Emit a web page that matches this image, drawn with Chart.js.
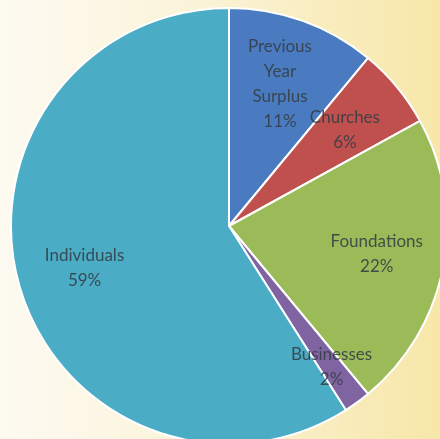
<!DOCTYPE html>
<html>
<head>
<meta charset="utf-8">
<script src="https://cdn.jsdelivr.net/npm/chart.js@4/dist/chart.umd.min.js"></script>
<style>
  html, body { margin: 0; padding: 0; }
  body {
    width: 440px; height: 439px; overflow: hidden;
    background: linear-gradient(to right, #fdfaf1 0%, #fbf3d8 45%, #f7e7a9 100%);
  }
  #wrap { position: relative; width: 440px; height: 439px; }
</style>
</head>
<body>
<div id="wrap"><canvas id="incomeChart"></canvas></div>
<script>
// Income sources - pie
const categories = ['Previous Year Surplus', 'Churches', 'Foundations', 'Businesses', 'Individuals'];
const labelLines = [['Previous', 'Year', 'Surplus'], ['Churches'], ['Foundations'], ['Businesses'], ['Individuals']];
const shares = [11, 6, 22, 2, 59];
const sliceColors = ['#4a7bc1', '#c0504d', '#9bbb59', '#8064a2', '#4bacc6'];

// draws "Name / NN%" inside every slice, at the middle angle of the arc
const sliceLabels = {
  id: 'sliceLabels',
  afterDatasetsDraw(chart) {
    const ctx = chart.ctx;
    const meta = chart.getDatasetMeta(0);
    const total = shares.reduce((a, b) => a + b, 0);
    ctx.save();
    ctx.font = '17px Lato, "Open Sans", sans-serif';
    ctx.fillStyle = 'rgba(52, 62, 68, 0.88)';
    ctx.textAlign = 'center';
    ctx.textBaseline = 'middle';
    meta.data.forEach((arc, i) => {
      const mid = (arc.startAngle + arc.endAngle) / 2;
      const frac = shares[i] / total < 0.05 ? 0.8 : 0.69; // tiny slices sit further out
      const r = arc.outerRadius * frac;
      const cx = arc.x + Math.cos(mid) * r;
      const cy = arc.y + Math.sin(mid) * r;
      const lines = labelLines[i].concat([shares[i] + '%']);
      const lh = 25;
      const top = cy - (lines.length - 1) * lh / 2;
      lines.forEach((t, k) => ctx.fillText(t, cx, top + k * lh));
    });
    ctx.restore();
  }
};

const ctx = document.getElementById('incomeChart').getContext('2d');
new Chart(ctx, {
  type: 'pie',
  data: {
    labels: categories,
    datasets: [{
      data: shares,
      backgroundColor: sliceColors,
      borderColor: '#ffffff',
      borderWidth: 2,
      clip: false
    }]
  },
  options: {
    responsive: true,
    maintainAspectRatio: false,
    animation: false,
    radius: 218,
    layout: { padding: { left: 18, right: 0, top: 13, bottom: 0 } },
    plugins: {
      legend: { display: false },
      tooltip: { enabled: false }
    }
  },
  plugins: [sliceLabels]
});
</script>
</body>
</html>
